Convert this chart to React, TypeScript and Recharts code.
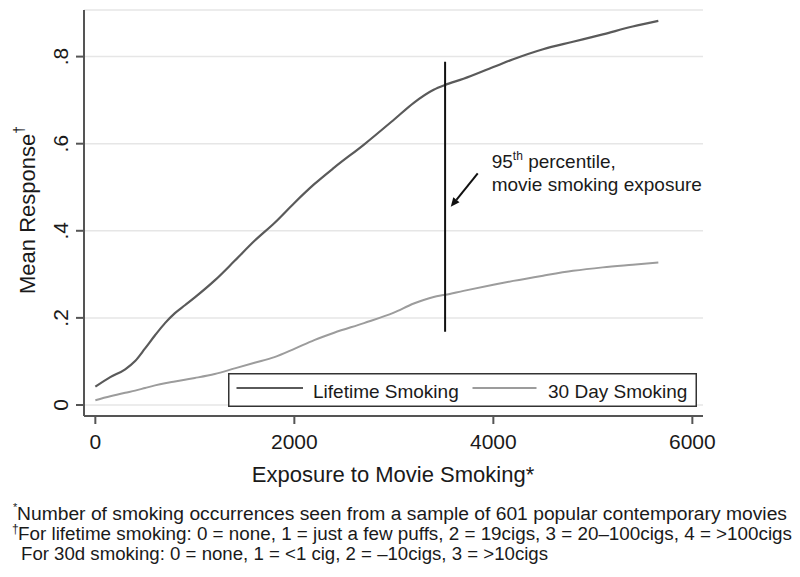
import React from 'react'
import { LineChart, Line, XAxis, YAxis, CartesianGrid, ReferenceLine, Legend } from 'recharts'

// exposure to movie smoking (x) and mean response per curve
const exposure = [0, 150, 300, 400, 500, 600, 700, 800, 900, 1000, 1200, 1400, 1600, 1800, 2000, 2200, 2400, 2700, 3000, 3200, 3400, 3515, 3700, 4000, 4200, 4500, 4800, 5100, 5400, 5658]
const lifetime = [0.042, 0.064, 0.082, 0.101, 0.13, 0.16, 0.188, 0.211, 0.229, 0.247, 0.286, 0.331, 0.377, 0.418, 0.464, 0.507, 0.545, 0.598, 0.655, 0.694, 0.724, 0.735, 0.749, 0.776, 0.794, 0.817, 0.834, 0.851, 0.869, 0.882]
const thirtyDay = [0.011, 0.02, 0.028, 0.033, 0.039, 0.045, 0.05, 0.054, 0.058, 0.062, 0.071, 0.084, 0.097, 0.11, 0.129, 0.149, 0.166, 0.188, 0.212, 0.233, 0.248, 0.253, 0.262, 0.276, 0.285, 0.297, 0.308, 0.316, 0.322, 0.327]

const xTicks = [0, 2000, 4000, 6000]
const yTicks = [0, 0.2, 0.4, 0.6, 0.8]
const yTickLabels = ['0', '.2', '.4', '.6', '.8']

const p95 = 3515
const p95Span = [0.168, 0.788]
const arrowFrom = { x: 3843, y: 0.532 }
const arrowTo = { x: 3572, y: 0.455 }

const data = exposure.map((x, i) => ({ x, lifetime: lifetime[i], thirtyDay: thirtyDay[i] }))

const FONT = '"Liberation Sans", Arial, Helvetica, sans-serif'
const AXIS = '#555'
const DARK = '#5a5a5a'
const LIGHT = '#9c9c9c'
const LEGEND_H = 34

function XTick(props: any) {
  const { x, y, payload } = props
  return (
    <text x={x} y={y} dy={23} textAnchor="middle" fontSize={21} fontFamily={FONT} fill="#1a1a1a">
      {payload.value}
    </text>
  )
}

function YTick(props: any) {
  const { x, y, payload } = props
  const i = yTicks.indexOf(payload.value)
  const tx = x - 13
  return (
    <text
      x={tx}
      y={y}
      transform={`rotate(-90 ${tx} ${y})`}
      textAnchor="middle"
      dominantBaseline="central"
      fontSize={21}
      fontFamily={FONT}
      fill="#1a1a1a"
    >
      {i >= 0 ? yTickLabels[i] : payload.value}
    </text>
  )
}

function ArrowNote(props: any) {
  const { x1, y1, x2, y2 } = props
  const dx = x2 - x1
  const dy = y2 - y1
  const len = Math.sqrt(dx * dx + dy * dy)
  const ux = dx / len
  const uy = dy / len
  const hl = 9
  const hw = 4
  const bx = x2 - ux * hl
  const by = y2 - uy * hl
  const head = `${x2},${y2} ${bx - uy * hw},${by + ux * hw} ${bx + uy * hw},${by - ux * hw}`
  return (
    <g>
      <line x1={x1} y1={y1} x2={bx} y2={by} stroke="#111" strokeWidth={2} />
      <polygon points={head} fill="#111" />
      <text x={x1 + 14} y={y1 - 5} fontSize={19} fontFamily={FONT} fill="#1a1a1a">
        95<tspan dy={-8} fontSize={12}>th</tspan>
        <tspan dy={8}> percentile,</tspan>
      </text>
      <text x={x1 + 14} y={y1 + 18} fontSize={19} fontFamily={FONT} fill="#1a1a1a">
        movie smoking exposure
      </text>
    </g>
  )
}

function LegendBox() {
  return (
    <svg width={469} height={LEGEND_H} style={{ display: 'block' }}>
      <rect x={0.75} y={0.75} width={467.5} height={32.5} fill="#fff" stroke="#333" strokeWidth={1.5} />
      <line x1={8.5} x2={75} y1={15} y2={15} stroke={DARK} strokeWidth={2} />
      <text x={85} y={25} fontSize={19} fontFamily={FONT} fill="#1a1a1a">Lifetime Smoking</text>
      <line x1={244.5} x2={308.5} y1={15} y2={15} stroke={LIGHT} strokeWidth={2} />
      <text x={320} y={25} fontSize={19} fontFamily={FONT} fill="#1a1a1a">30 Day Smoking</text>
    </svg>
  )
}

export default function App() {
  return (
    <div style={{ position: 'absolute', left: 0, top: 0, width: 800, height: 577, background: '#fff' }}>
      {/* the legend's measured height is taken off the bottom margin so the plot keeps its size */}
      <LineChart width={800} height={577} data={data} margin={{ top: 10, right: 97, bottom: 121 - LEGEND_H, left: 0 }}>
        <CartesianGrid vertical={false} stroke="#e6e6e6" strokeWidth={1.5} />
        <XAxis
          type="number"
          dataKey="x"
          domain={[-114, 6107]}
          ticks={xTicks}
          allowDataOverflow
          height={40}
          stroke={AXIS}
          strokeWidth={2}
          tickSize={8}
          tick={XTick}
        />
        <YAxis
          type="number"
          domain={[-0.0253, 0.907]}
          ticks={yTicks}
          allowDataOverflow
          width={84}
          stroke={AXIS}
          strokeWidth={2}
          tickSize={8}
          tick={YTick}
        />
        <Line type="monotone" dataKey="lifetime" name="Lifetime Smoking" stroke={DARK} strokeWidth={2.2} dot={false} isAnimationActive={false} />
        <Line type="monotone" dataKey="thirtyDay" name="30 Day Smoking" stroke={LIGHT} strokeWidth={2} dot={false} isAnimationActive={false} />
        <ReferenceLine
          segment={[{ x: p95, y: p95Span[0] }, { x: p95, y: p95Span[1] }]}
          stroke="#111"
          strokeWidth={2}
        />
        <ReferenceLine
          segment={[arrowFrom, arrowTo]}
          stroke="#111"
          shape={ArrowNote}
        />
        <Legend
          content={LegendBox}
          wrapperStyle={{ position: 'absolute', left: 228, top: 373, width: 469, height: LEGEND_H }}
        />
      </LineChart>
      <svg width={800} height={577} style={{ position: 'absolute', left: 0, top: 0, pointerEvents: 'none' }}>
        <text
          x={27}
          y={210}
          transform="rotate(-90 27 210)"
          textAnchor="middle"
          dominantBaseline="central"
          fontSize={22}
          fontFamily={FONT}
          fill="#1a1a1a"
        >
          Mean Response<tspan dy={-8} fontSize={14}>†</tspan>
        </text>
        <text x={393} y={482} textAnchor="middle" fontSize={22} fontFamily={FONT} fill="#1a1a1a">
          Exposure to Movie Smoking*
        </text>
        <text x={13} y={511} fontSize={11} fontFamily={FONT} fill="#1a1a1a">*</text>
        <text x={17} y={520} fontSize={18} fontFamily={FONT} fill="#1a1a1a" textLength={770} lengthAdjust="spacingAndGlyphs">
          Number of smoking occurrences seen from a sample of 601 popular contemporary movies
        </text>
        <text x={12} y={533} fontSize={12} fontFamily={FONT} fill="#1a1a1a">†</text>
        <text x={18} y={540} fontSize={18} fontFamily={FONT} fill="#1a1a1a" textLength={774} lengthAdjust="spacingAndGlyphs">
          For lifetime smoking: 0 = none, 1 = just a few puffs, 2 = 19cigs, 3 = 20–100cigs, 4 = &gt;100cigs
        </text>
        <text x={21} y={560} fontSize={18} fontFamily={FONT} fill="#1a1a1a" textLength={527} lengthAdjust="spacingAndGlyphs">
          For 30d smoking: 0 = none, 1 = &lt;1 cig, 2 = –10cigs, 3 = &gt;10cigs
        </text>
      </svg>
    </div>
  )
}
